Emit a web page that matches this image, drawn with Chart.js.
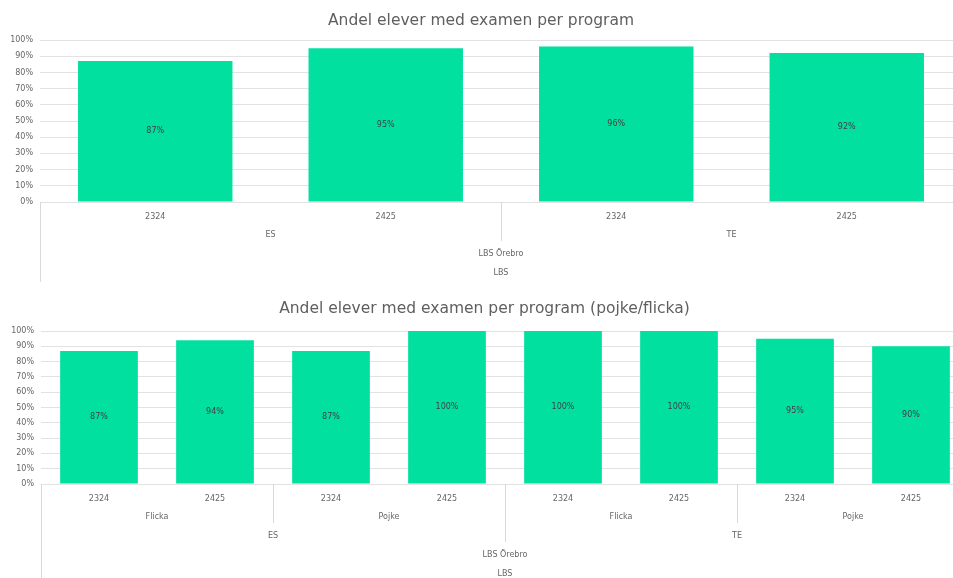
<html>
<head>
    <script src="https://cdn.jsdelivr.net/npm/chart.js@4.4.0/dist/chart.umd.min.js"></script>
    <style>
        body { margin: 0; width: 953px; height: 578px; overflow: hidden; background: #fff; }
        .box { position: absolute; left: 0; }
    </style>
</head>
<body>

    <div class="box" style="top:0px"><canvas id="chart1" width="975" height="290"></canvas></div>
    <div class="box" style="top:288px"><canvas id="chart2" width="975" height="290"></canvas></div>

    <script>
        // chart 1 - per program
        const title1 = 'Andel elever med examen per program';
        const years1 = ['2324', '2425', '2324', '2425'];
        const programs1 = ['ES', 'TE'];
        const values1 = [87, 95, 96, 92];

        // chart 2 - per program and gender
        const title2 = 'Andel elever med examen per program (pojke/flicka)';
        const years2 = ['2324', '2425', '2324', '2425', '2324', '2425', '2324', '2425'];
        const genders2 = ['Flicka', 'Pojke', 'Flicka', 'Pojke'];
        const programs2 = ['ES', 'TE'];
        const values2 = [87, 94, 87, 100, 100, 100, 95, 90];

        const school = ['LBS Örebro'];
        const org = ['LBS'];

        const font = '"DejaVu Sans", sans-serif';
        const barColor = 'rgb(2,224,160)';
        const lineColor = '#d9d9d9';
        const ROW = 19;

        // draws the extra category levels under the year labels + the % labels in the bars
        const groupPlugin = {
            id: 'groups',
            afterDatasetsDraw(chart) {
                const ctx = chart.ctx;
                const meta = chart.getDatasetMeta(0);
                const ds = chart.data.datasets[0];
                ctx.save();
                ctx.font = '8px ' + font;
                ctx.fillStyle = '#404040';
                ctx.textAlign = 'center';
                ctx.textBaseline = 'middle';
                meta.data.forEach((bar, i) => {
                    ctx.fillText(ds.data[i] + '%', bar.x, (bar.y + bar.base) / 2);
                });
                ctx.restore();
            },
            afterDraw(chart, args, opts) {
                const ctx = chart.ctx;
                const x = chart.scales.x;
                const bottom = chart.chartArea.bottom;
                const n = chart.data.labels.length;
                const levels = opts.levels;
                ctx.save();
                ctx.font = '8px ' + font;
                ctx.fillStyle = '#666';
                ctx.textAlign = 'center';
                ctx.textBaseline = 'middle';
                ctx.strokeStyle = lineColor;
                ctx.lineWidth = 1;
                levels.forEach((level, k) => {
                    const span = n / level.length;
                    const y = bottom + 14 + ROW * (k + 1);
                    level.forEach((lab, g) => {
                        const a = g * span, b = a + span - 1;
                        const cx = (x.getPixelForValue(a) + x.getPixelForValue(b)) / 2;
                        ctx.fillText(lab, cx, y);
                        if (g < level.length - 1) {
                            const sx = Math.round((x.getPixelForValue(b) + x.getPixelForValue(b + 1)) / 2) + 0.5;
                            ctx.beginPath();
                            ctx.moveTo(sx, bottom);
                            ctx.lineTo(sx, y + 6);
                            ctx.stroke();
                        }
                    });
                });
                const lx = Math.round(chart.chartArea.left) + 0.5;
                ctx.beginPath();
                ctx.moveTo(lx, bottom);
                ctx.lineTo(lx, bottom + 14 + ROW * levels.length + 9);
                ctx.stroke();
                ctx.restore();
            }
        };

        function makeChart(id, title, labels, values, levels, titleBottom, xHeight, padRight) {
            const ctx = document.getElementById(id).getContext('2d');
            return new Chart(ctx, {
                type: 'bar',
                data: {
                    labels: labels,
                    datasets: [{
                        data: values,
                        backgroundColor: barColor,
                        borderWidth: 0,
                        categoryPercentage: 1,
                        barPercentage: 0.67
                    }]
                },
                options: {
                    responsive: false,
                    animation: false,
                    layout: { padding: { left: 0, right: padRight, top: 0, bottom: 0 } },
                    plugins: {
                        legend: { display: false },
                        tooltip: { enabled: false },
                        title: {
                            display: true,
                            text: title,
                            color: '#5f5f5f',
                            font: { family: font, size: 15.5, weight: 'normal', lineHeight: 1.1 },
                            padding: { top: 12.5, bottom: titleBottom }
                        },
                        groups: { levels: levels }
                    },
                    scales: {
                        x: {
                            grid: { display: false, drawTicks: false },
                            border: { display: false },
                            ticks: { color: '#666', font: { family: font, size: 8 }, padding: 10, maxRotation: 0, autoSkip: false },
                            afterFit(scale) { scale.height = xHeight; }
                        },
                        y: {
                            min: 0,
                            max: 100,
                            grid: { color: '#e2e2e2', drawTicks: false },
                            border: { display: false },
                            ticks: {
                                stepSize: 10,
                                color: '#666',
                                padding: 7,
                                font: { family: font, size: 8 },
                                callback: v => v + '%'
                            },
                            afterFit(scale) { scale.width = id === 'chart1' ? 40 : 41; }
                        }
                    }
                },
                plugins: [groupPlugin]
            });
        }

        makeChart('chart1', title1, years1, values1, [programs1, school, org], 10.5, 88, 13);
        makeChart('chart2', title2, years2, values2, [genders2, programs2, school, org], 13.5, 94, 6);
    </script>
</body>

</html>
